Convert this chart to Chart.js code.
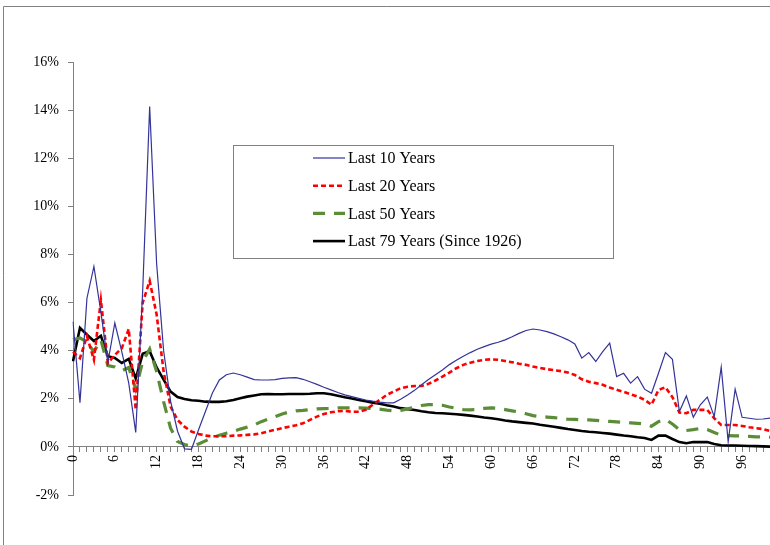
<!DOCTYPE html>
<html>
<head>
<meta charset="utf-8">
<script src="https://cdn.jsdelivr.net/npm/chart.js@4.4.0/dist/chart.umd.min.js"></script>
<style>
body { margin: 0; background: #fff; }
</style>
</head>
<body>
<canvas id="lineCanvas" width="770" height="545"></canvas>
<script>
// x categories (years)
const years = [0,1,2,3,4,5,6,7,8,9,10,11,12,13,14,15,16,17,18,19,20,21,22,23,24,25,26,27,28,29,
    30,31,32,33,34,35,36,37,38,39,40,41,42,43,44,45,46,47,48,49,50,51,52,53,54,55,56,57,58,59,
    60,61,62,63,64,65,66,67,68,69,70,71,72,73,74,75,76,77,78,79,80,81,82,83,84,85,86,87,88,89,
    90,91,92,93,94,95,96,97,98,99,100];

// values in percent
const last10 = [5.2, 1.84, 6.18, 7.5, 5.6, 3.5, 5.15, 3.96, 2.65, 0.6,
    6.5, 14.15, 7.6, 4.0, 1.9, 0.65, -0.08, -0.1, 0.7, 1.47,
    2.24, 2.78, 3.0, 3.07, 3.0, 2.9, 2.8, 2.78, 2.78, 2.8,
    2.85, 2.87, 2.88, 2.81, 2.71, 2.6, 2.48, 2.37, 2.26, 2.16,
    2.09, 2.02, 1.95, 1.9, 1.86, 1.83, 1.83, 1.98, 2.16, 2.35,
    2.58, 2.8, 3.0, 3.2, 3.42, 3.6, 3.77, 3.92, 4.06, 4.17,
    4.27, 4.35, 4.45, 4.58, 4.72, 4.84, 4.9, 4.86, 4.79, 4.7,
    4.58, 4.45, 4.28, 3.69, 3.92, 3.55, 3.96, 4.31, 2.92, 3.06,
    2.65, 2.92, 2.4, 2.23, 3.06, 3.92, 3.64, 1.47, 2.12, 1.23,
    1.75, 2.07, 1.26, 3.31, 0.22, 2.4, 1.23, 1.19, 1.15, 1.16,
    1.2];

const last20 = [3.95, 3.69, 4.6, 3.62, 6.1, 3.48, 3.82, 4.1, 4.9, 1.54,
    6.0, 6.9, 5.5, 3.13, 1.68, 1.12, 0.84, 0.64, 0.54, 0.47,
    0.44, 0.44, 0.44, 0.47, 0.48, 0.5, 0.52, 0.57, 0.64, 0.71,
    0.78, 0.84, 0.9, 0.98, 1.12, 1.26, 1.37, 1.44, 1.48, 1.5,
    1.46, 1.46, 1.54, 1.75, 1.95, 2.16, 2.3, 2.44, 2.5, 2.53,
    2.53, 2.62, 2.76, 2.92, 3.09, 3.27, 3.41, 3.5, 3.57, 3.62,
    3.64, 3.62, 3.57, 3.52, 3.46, 3.41, 3.34, 3.28, 3.23, 3.19,
    3.15, 3.09, 2.99, 2.81, 2.71, 2.65, 2.58, 2.47, 2.37, 2.29,
    2.19, 2.09, 1.96, 1.75, 2.37, 2.48, 2.07, 1.43, 1.4, 1.54,
    1.54, 1.54, 1.19, 0.91, 0.91, 0.91, 0.87, 0.82, 0.78, 0.74,
    0.66];

const last50 = [4.45, 4.53, 4.35, 3.96, 4.45, 3.38, 3.32, 3.16, 3.3, 2.4,
    3.55, 4.07, 3.13, 1.88, 0.78, 0.22, 0.1, 0.03, 0.12, 0.25,
    0.38, 0.48, 0.57, 0.64, 0.74, 0.82, 0.91, 1.05, 1.15, 1.26,
    1.37, 1.45, 1.5, 1.52, 1.55, 1.58, 1.59, 1.6, 1.62, 1.62,
    1.62, 1.62, 1.61, 1.6, 1.57, 1.53, 1.5, 1.52, 1.58, 1.64,
    1.72, 1.76, 1.76, 1.73, 1.66, 1.6, 1.55, 1.54, 1.55, 1.6,
    1.62, 1.6, 1.55, 1.5, 1.45, 1.38, 1.3, 1.26, 1.24, 1.22,
    1.18, 1.15, 1.14, 1.12, 1.12, 1.1, 1.08, 1.06, 1.04, 1.02,
    1.0, 0.98, 0.95, 0.86, 1.05, 1.15, 0.95, 0.72, 0.68, 0.72,
    0.77, 0.72, 0.6, 0.48, 0.47, 0.46, 0.45, 0.44, 0.42, 0.41,
    0.4];

const last79 = [3.56, 4.95, 4.66, 4.4, 4.62, 3.77, 3.7, 3.49, 3.66, 2.84,
    3.87, 3.98, 3.3, 2.8, 2.3, 2.07, 1.99, 1.94, 1.92, 1.88,
    1.87, 1.87, 1.9, 1.95, 2.02, 2.09, 2.14, 2.19, 2.2, 2.19,
    2.19, 2.2, 2.2, 2.2, 2.21, 2.23, 2.23, 2.19, 2.13, 2.06,
    2.01, 1.95, 1.9, 1.84, 1.79, 1.73, 1.68, 1.61, 1.57, 1.53,
    1.48, 1.44, 1.41, 1.4, 1.38, 1.36, 1.33, 1.3, 1.26, 1.22,
    1.19, 1.15, 1.1, 1.06, 1.03, 1.0, 0.97, 0.92, 0.88, 0.84,
    0.79, 0.74, 0.7, 0.66, 0.63, 0.61, 0.58, 0.55, 0.51, 0.47,
    0.44, 0.4, 0.37, 0.29, 0.47, 0.47, 0.33, 0.2, 0.15, 0.2,
    0.2, 0.2, 0.12, 0.07, 0.06, 0.06, 0.05, 0.04, 0.03, 0.02,
    0.01];

const seriesNames = ["Last 10 Years", "Last 20 Years", "Last 50 Years", "Last 79 Years (Since 1926)"];
const yTicks = [-2, 0, 2, 4, 6, 8, 10, 12, 14, 16];

const serif = "'Liberation Serif', 'Times New Roman', serif";

// grey frame at the top and left of the picture
const frame = {
    id: "frame",
    beforeDraw(chart) {
        const ctx = chart.ctx;
        ctx.save();
        ctx.strokeStyle = "#808080";
        ctx.lineWidth = 1;
        ctx.beginPath();
        ctx.moveTo(3.5, 545);
        ctx.lineTo(3.5, 6.5);
        ctx.lineTo(770, 6.5);
        ctx.stroke();
        ctx.restore();
    }
};

// boxed legend in the middle of the plot
const boxLegend = {
    id: "boxLegend",
    afterDraw(chart) {
        const ctx = chart.ctx;
        ctx.save();
        ctx.fillStyle = "#fff";
        ctx.fillRect(233, 145, 380, 113);
        ctx.strokeStyle = "#808080";
        ctx.lineWidth = 1;
        ctx.strokeRect(233.5, 145.5, 380, 113);
        ctx.font = "16px " + serif;
        ctx.textBaseline = "middle";
        chart.data.datasets.forEach((ds, i) => {
            const y = 158 + i * 27.7;
            ctx.beginPath();
            ctx.strokeStyle = ds.borderColor;
            ctx.lineWidth = ds.borderWidth;
            ctx.setLineDash(ds.borderDash || []);
            ctx.moveTo(313, y);
            ctx.lineTo(345, y);
            ctx.stroke();
            ctx.setLineDash([]);
            ctx.fillStyle = "#000";
            ctx.fillText(ds.label, 348, y + 1);
        });
        ctx.restore();
    }
};

const lineCanvas = document.getElementById("lineCanvas");

const lineChart = new Chart(lineCanvas, {
    type: "line",
    data: {
        labels: years,
        datasets: [{
            label: seriesNames[0],
            data: last10,
            borderColor: "#333399",
            borderWidth: 1.2
        }, {
            label: seriesNames[1],
            data: last20,
            borderColor: "#ff0000",
            borderWidth: 2.6,
            borderDash: [5, 3]
        }, {
            label: seriesNames[2],
            data: last50,
            borderColor: "#5b8c37",
            borderWidth: 3.2,
            borderDash: [12, 9]
        }, {
            label: seriesNames[3],
            data: last79,
            borderColor: "#000000",
            borderWidth: 2.6
        }]
    },
    options: {
        responsive: false,
        animation: false,
        elements: {
            point: { radius: 0 },
            line: { tension: 0 }
        },
        layout: {
            padding: { left: 0, right: 0, top: 62, bottom: 50 }
        },
        plugins: {
            legend: { display: false },
            tooltip: { enabled: false }
        },
        scales: {
            y: {
                min: -2,
                max: 16,
                afterBuildTicks: (scale) => {
                    scale.ticks = yTicks.map(v => ({ value: v }));
                },
                afterFit: (scale) => {
                    scale.width = 73;
                },
                ticks: {
                    callback: (v) => v + "%",
                    color: "#000",
                    padding: 9,
                    font: { family: serif, size: 14 }
                },
                grid: {
                    drawOnChartArea: false,
                    tickLength: 5,
                    color: "#808080"
                },
                border: { color: "#808080" }
            },
            x: {
                type: "category",
                position: { y: 0 },
                afterFit: (scale) => {
                    scale.paddingLeft = 0;
                    scale.paddingRight = 0;
                },
                ticks: {
                    autoSkip: false,
                    minRotation: 90,
                    maxRotation: 90,
                    padding: 3,
                    color: "#000",
                    font: { family: serif, size: 14 },
                    callback: function (value, index) {
                        return index % 6 === 0 ? this.getLabelForValue(value) : "";
                    }
                },
                grid: {
                    drawOnChartArea: false,
                    tickLength: 5,
                    color: "#808080"
                },
                border: { color: "#808080" }
            }
        }
    },
    plugins: [frame, boxLegend]
});
</script>
</body>
</html>
